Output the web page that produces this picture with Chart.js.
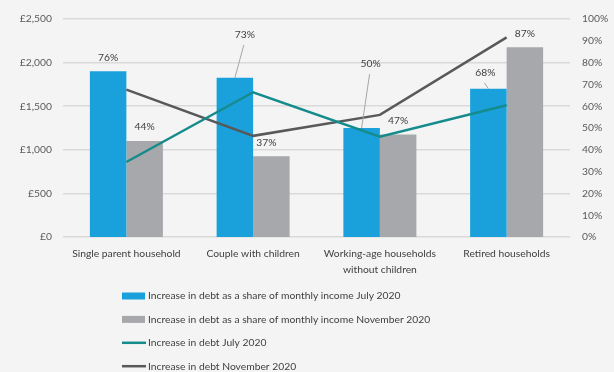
<!DOCTYPE html>
<html>
<head>
<meta charset="utf-8">
<script src="https://cdn.jsdelivr.net/npm/chart.js@4/dist/chart.umd.min.js"></script>
<style>
  html, body { margin: 0; padding: 0; background: #f4f4f4; }
  canvas { display: block; }
</style>
</head>
<body>
<canvas id="c" width="614" height="372"></canvas>
<script>
// Household groups
const categories = [
  'Single parent household',
  'Couple with children',
  ['Working-age households', 'without children'],
  'Retired households'
];

// Increase in debt as a share of monthly income (%)
const shareJuly = [76, 73, 50, 68];
const shareNovember = [44, 37, 47, 87];

// Increase in debt (£)
const debtJuly = [860, 1660, 1150, 1510];
const debtNovember = [1690, 1160, 1400, 2290];

const seriesNames = [
  'Increase in debt as a share of monthly income July 2020',
  'Increase in debt as a share of monthly income November 2020',
  'Increase in debt July 2020',
  'Increase in debt November 2020'
];

const FONT = 'Lato, "Open Sans", sans-serif';
const TEXT = '#404040';
const SIZE = 10.3;

// Label nudges [dx, dy] for crowded percentage labels, and which get a leader line
const nudges = [
  [[0, 0], [10, -29], [9, -50], [-3, -2]],
  [[0, 0], [-5, 0], [0, 0], [0, 0]]
];
const leaders = [
  [false, true, true, true],
  [false, false, false, false]
];

const barLabels = {
  id: 'barLabels',
  afterDatasetsDraw(chart) {
    const ctx = chart.ctx;
    ctx.save();
    ctx.font = SIZE + 'px ' + FONT;
    ctx.fillStyle = TEXT;
    ctx.textAlign = 'center';
    ctx.textBaseline = 'middle';
    [0, 1].forEach(di => {
      const meta = chart.getDatasetMeta(di);
      const values = chart.data.datasets[di].data;
      meta.data.forEach((el, i) => {
        const [dx, dy] = nudges[di][i];
        const lx = el.x + dx;
        const ly = el.y - 14 + dy;
        if (leaders[di][i]) {
          ctx.strokeStyle = '#a6a6a6';
          ctx.lineWidth = 1;
          ctx.beginPath();
          ctx.moveTo(lx - 1, ly + 10);
          ctx.lineTo(el.x, el.y);
          ctx.stroke();
        }
        ctx.fillText(values[i] + '%', lx, ly);
      });
    });
    ctx.restore();
  }
};

// Vertical legend list below the axis
const listLegend = {
  id: 'listLegend',
  afterDraw(chart) {
    const ctx = chart.ctx;
    ctx.save();
    ctx.font = SIZE + 'px ' + FONT;
    ctx.fillStyle = TEXT;
    ctx.textBaseline = 'middle';
    ctx.textAlign = 'left';
    const x0 = 122, top = 296, step = 23.4;
    chart.data.datasets.forEach((ds, i) => {
      const y = top + i * step;
      if (ds.type === 'bar') {
        ctx.fillStyle = ds.backgroundColor;
        ctx.fillRect(x0, y - 3.5, 23, 7);
      } else {
        ctx.strokeStyle = ds.borderColor;
        ctx.lineWidth = 2.5;
        ctx.beginPath();
        ctx.moveTo(x0, y);
        ctx.lineTo(x0 + 24, y);
        ctx.stroke();
      }
      ctx.fillStyle = TEXT;
      ctx.fillText(ds.label, x0 + 26, y);
    });
    ctx.restore();
  }
};

new Chart(document.getElementById('c'), {
  data: {
    labels: categories,
    datasets: [
      { type: 'bar', label: seriesNames[0], data: shareJuly, yAxisID: 'pct',
        backgroundColor: '#1aa1dc', order: 2 },
      { type: 'bar', label: seriesNames[1], data: shareNovember, yAxisID: 'pct',
        backgroundColor: '#a6a8ab', order: 2 },
      { type: 'line', label: seriesNames[2], data: debtJuly, yAxisID: 'gbp',
        borderColor: '#168b8c', borderWidth: 2.5, pointRadius: 0, tension: 0, order: 1 },
      { type: 'line', label: seriesNames[3], data: debtNovember, yAxisID: 'gbp',
        borderColor: '#58595b', borderWidth: 2.5, pointRadius: 0, tension: 0, order: 1 }
    ]
  },
  options: {
    responsive: false,
    animation: false,
    devicePixelRatio: 1,
    layout: { padding: { top: 19, left: 0, right: 0, bottom: 0 } },
    datasets: { bar: { categoryPercentage: 0.576, barPercentage: 1 } },
    plugins: {
      legend: { display: false },
      tooltip: { enabled: false }
    },
    scales: {
      x: {
        grid: { display: false },
        border: { display: false },
        ticks: { color: TEXT, font: { family: FONT, size: SIZE, lineHeight: 1.55 }, padding: 1, maxRotation: 0, autoSkip: false },
        afterFit(s) { s.height = 135; }
      },
      gbp: {
        position: 'left',
        min: 0, max: 2500,
        grid: { color: '#d9d9d9', lineWidth: 1.5, drawTicks: false },
        border: { display: false },
        ticks: {
          stepSize: 500, padding: 11, color: '#595959',
          font: { family: FONT, size: SIZE },
          callback: v => '£' + v.toLocaleString('en-GB')
        },
        afterFit(s) { s.width = 63; }
      },
      pct: {
        position: 'right',
        min: 0, max: 100,
        grid: { display: false, drawTicks: false },
        border: { display: false },
        ticks: {
          stepSize: 10, padding: 12, color: '#595959',
          font: { family: FONT, size: SIZE },
          callback: v => v + '%'
        },
        afterFit(s) { s.width = 44; }
      }
    }
  },
  plugins: [barLabels, listLegend]
});
</script>
</body>
</html>
